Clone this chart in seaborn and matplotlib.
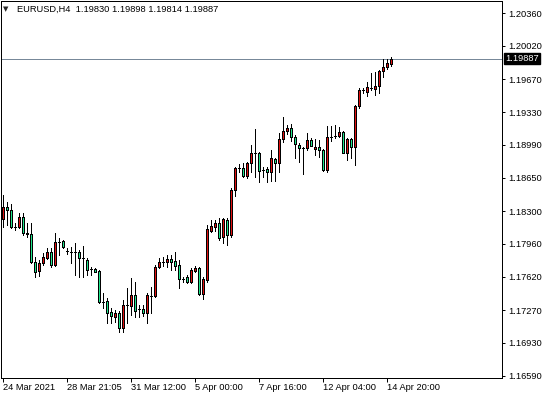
import pandas as pd
import matplotlib
matplotlib.use("Agg")
import matplotlib.pyplot as plt
import seaborn as sns

sns.set_theme(style="white")
plt.rcParams['font.family'] = ['Liberation Sans', 'DejaVu Sans']

# EURUSD H4 bars (open, high, low, close)
opens = [1.18215, 1.18340, 1.18312, 1.18132, 1.18132, 1.18242, 1.18070, 1.18063, 1.17775, 1.17681,
         1.17764, 1.17816, 1.17879, 1.17740, 1.17983, 1.17990, 1.17889, 1.17879, 1.17875, 1.17872,
         1.17810, 1.17792, 1.17696, 1.17699, 1.17678, 1.17359, 1.17366, 1.17255, 1.17203, 1.17245,
         1.17082, 1.17325, 1.17317, 1.17429, 1.17280, 1.17283, 1.17245, 1.17418, 1.17418, 1.17723,
         1.17775, 1.17775, 1.17800, 1.17785, 1.17740, 1.17595, 1.17612, 1.17560, 1.17681, 1.17706,
         1.17436, 1.17584, 1.18097, 1.18139, 1.18174, 1.18035, 1.18208, 1.18052, 1.18520, 1.18746,
         1.18746, 1.18669, 1.18798, 1.18901, 1.18901, 1.18728, 1.18735, 1.18710, 1.18842, 1.18798,
         1.19047, 1.19136, 1.19161, 1.19074, 1.18988, 1.18960, 1.18960, 1.19040, 1.18943, 1.18964,
         1.18936, 1.18728, 1.19074, 1.19084, 1.19084, 1.19120, 1.18908, 1.19047, 1.18970, 1.19393,
         1.19559, 1.19542, 1.19583, 1.19573, 1.19601, 1.19757, 1.19795, 1.19830]
highs = [1.18468, 1.18398, 1.18374, 1.18180, 1.18278, 1.18278, 1.18174, 1.18174, 1.17827, 1.17792,
         1.17862, 1.17914, 1.17914, 1.18070, 1.18018, 1.18000, 1.17914, 1.17931, 1.17966, 1.17896,
         1.17938, 1.17810, 1.17716, 1.17706, 1.17688, 1.17446, 1.17394, 1.17290, 1.17273, 1.17262,
         1.17377, 1.17498, 1.17602, 1.17567, 1.17325, 1.17325, 1.17446, 1.17515, 1.17740, 1.17810,
         1.17827, 1.17844, 1.17844, 1.17872, 1.17792, 1.17619, 1.17636, 1.17706, 1.17730, 1.17716,
         1.17619, 1.18156, 1.18208, 1.18208, 1.18226, 1.18226, 1.18226, 1.18538, 1.18762, 1.18787,
         1.18798, 1.18814, 1.18988, 1.19154, 1.18918, 1.18756, 1.18756, 1.18936, 1.18850, 1.19109,
         1.19282, 1.19196, 1.19206, 1.19092, 1.19012, 1.18970, 1.19109, 1.19057, 1.19047, 1.19040,
         1.18943, 1.19185, 1.19185, 1.19196, 1.19178, 1.19133, 1.19057, 1.19057, 1.19404, 1.19577,
         1.19577, 1.19646, 1.19739, 1.19750, 1.19767, 1.19879, 1.19879, 1.19898]
lows = [1.18132, 1.18156, 1.18125, 1.18104, 1.18122, 1.18052, 1.18035, 1.17758, 1.17619, 1.17629,
        1.17740, 1.17800, 1.17723, 1.17735, 1.17844, 1.17914, 1.17855, 1.17758, 1.17636, 1.17619,
        1.17616, 1.17636, 1.17636, 1.17671, 1.17345, 1.17290, 1.17134, 1.17134, 1.17151, 1.17047,
        1.17047, 1.17134, 1.17221, 1.17203, 1.17203, 1.17210, 1.17134, 1.17245, 1.17405, 1.17706,
        1.17730, 1.17723, 1.17688, 1.17688, 1.17498, 1.17567, 1.17556, 1.17550, 1.17671, 1.17429,
        1.17384, 1.17567, 1.18087, 1.18097, 1.18000, 1.17972, 1.17948, 1.18035, 1.18458, 1.18710,
        1.18658, 1.18642, 1.18710, 1.18658, 1.18606, 1.18658, 1.18606, 1.18617, 1.18617, 1.18704,
        1.19022, 1.19102, 1.19032, 1.18850, 1.18814, 1.18683, 1.18936, 1.18977, 1.18884, 1.18860,
        1.18717, 1.18710, 1.19032, 1.19057, 1.19076, 1.18901, 1.18832, 1.18850, 1.18780, 1.19369,
        1.19531, 1.19497, 1.19559, 1.19508, 1.19525, 1.19698, 1.19778, 1.19814]
closes = [1.18340, 1.18312, 1.18132, 1.18135, 1.18242, 1.18070, 1.18063, 1.17768, 1.17671, 1.17764,
          1.17827, 1.17879, 1.17740, 1.17976, 1.17983, 1.17924, 1.17889, 1.17879, 1.17875, 1.17810,
          1.17810, 1.17688, 1.17696, 1.17671, 1.17359, 1.17359, 1.17245, 1.17210, 1.17245, 1.17082,
          1.17325, 1.17325, 1.17429, 1.17265, 1.17280, 1.17245, 1.17429, 1.17418, 1.17723, 1.17775,
          1.17775, 1.17800, 1.17775, 1.17733, 1.17592, 1.17595, 1.17567, 1.17688, 1.17706, 1.17436,
          1.17592, 1.18111, 1.18146, 1.18174, 1.18024, 1.18215, 1.18052, 1.18520, 1.18746, 1.18746,
          1.18669, 1.18798, 1.18901, 1.18901, 1.18721, 1.18728, 1.18710, 1.18850, 1.18804, 1.19047,
          1.19136, 1.19161, 1.19074, 1.18995, 1.18960, 1.18960, 1.19040, 1.18980, 1.18964, 1.18936,
          1.18728, 1.19068, 1.19074, 1.19084, 1.19120, 1.18908, 1.19047, 1.18970, 1.19393, 1.19559,
          1.19559, 1.19588, 1.19583, 1.19601, 1.19757, 1.19795, 1.19843, 1.19887]

date_ticks = [0, 16, 32, 48, 64, 80, 96]
date_labels = ["24 Mar 2021", "28 Mar 21:05", "31 Mar 12:00", "5 Apr 00:00",
               "7 Apr 16:00", "12 Apr 04:00", "14 Apr 20:00"]
price_labels = ["1.20360", "1.20020", "1.19670", "1.19330", "1.18990", "1.18650",
                "1.18300", "1.17960", "1.17620", "1.17270", "1.16930", "1.16590"]

df = pd.DataFrame({"open": opens, "high": highs, "low": lows, "close": closes})
df["bar"] = range(len(df))
df["body"] = (df["close"] - df["open"]).where(df["close"] != df["open"], 1e-7)
df["color"] = ["#e01010" if c >= o else "#1ee68c" for o, c in zip(df["open"], df["close"])]

W, H = 548, 399
fig = plt.figure(figsize=(W / 100, H / 100), dpi=100)
fig.patch.set_facecolor("white")
ax = fig.add_axes([1 / W, (H - 378) / H, 501 / W, 377 / H])
ax.set_facecolor("white")

px = 0.72  # one pixel in points

# bid line
ax.axhline(closes[-1], color="#778899", lw=px, zorder=1, antialiased=False)

# wicks and bodies
ax.vlines(df["bar"], df["low"], df["high"], color="black", lw=px, zorder=2, antialiased=False)
ax.bar(df["bar"], df["body"], bottom=df["open"], width=0.5, color=df["color"],
       edgecolor="black", linewidth=px, zorder=3, antialiased=False)

ax.set_xlim(-0.575, 124.7)
ax.set_ylim(1.16566, 1.20485)

for s in ax.spines.values():
    s.set_color("black")
    s.set_linewidth(px)

ax.yaxis.tick_right()
ax.set_yticks([float(v) for v in price_labels])
ax.set_yticklabels(price_labels)
ax.set_xticks(date_ticks)
ax.set_xticklabels(date_labels, ha="left")
ax.tick_params(axis="y", direction="out", length=2.2, width=px, pad=2.2,
               labelsize=6.7, colors="black", right=True, left=False)
ax.tick_params(axis="x", direction="out", length=2.9, width=px, pad=1.0,
               labelsize=6.7, colors="black", bottom=True)
for lab in ax.get_xticklabels():
    lab.set_horizontalalignment("left")

# current price tag
ax.text(1.0 + 3 / 501, closes[-1], f"{closes[-1]:.5f}", transform=ax.get_yaxis_transform(),
        ha="left", va="center", color="white", fontsize=6.7, clip_on=False, zorder=5,
        bbox=dict(boxstyle="square,pad=0.12", fc="black", ec="black"))

# header
fig.text(3 / W, 1 - 9 / H, "▼", family=["DejaVu Sans"], fontsize=5, va="center", ha="left")
fig.text(17 / W, 1 - 9 / H, "EURUSD,H4  1.19830 1.19898 1.19814 1.19887",
         fontsize=6.7, va="center", ha="left", color="black")

fig.savefig("out.png", dpi=100)
